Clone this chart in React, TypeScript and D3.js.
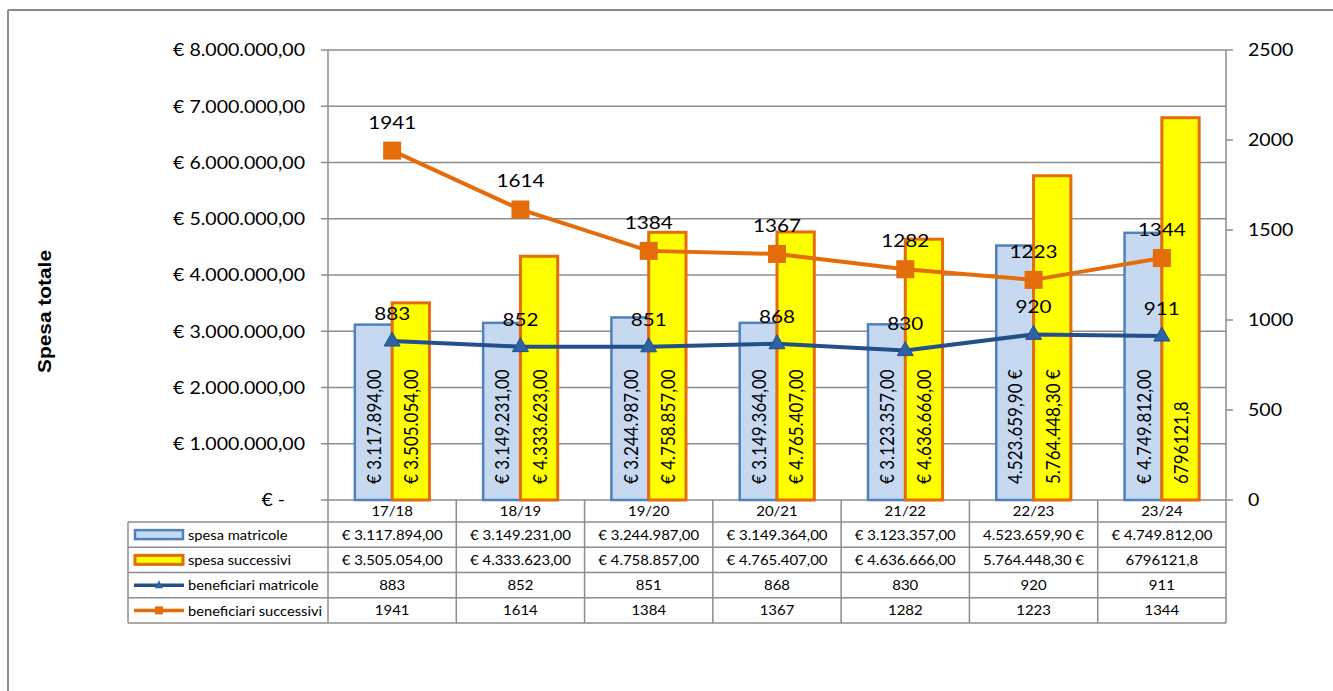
import React from "react";
import * as d3 from "d3";

const categories = ["17/18", "18/19", "19/20", "20/21", "21/22", "22/23", "23/24"];
const seriesNames = ["spesa matricole", "spesa successivi", "beneficiari matricole", "beneficiari successivi"];
const spesaMatricole = [3117894, 3149231, 3244987, 3149364, 3123357, 4523659.9, 4749812];
const spesaSuccessivi = [3505054, 4333623, 4758857, 4765407, 4636666, 5764448.3, 6796121.8];
const beneficiariMatricole = [883, 852, 851, 868, 830, 920, 911];
const beneficiariSuccessivi = [1941, 1614, 1384, 1367, 1282, 1223, 1344];
const matricoleLabels = ["€ 3.117.894,00", "€ 3.149.231,00", "€ 3.244.987,00", "€ 3.149.364,00", "€ 3.123.357,00", "4.523.659,90 €", "€ 4.749.812,00"];
const successiviLabels = ["€ 3.505.054,00", "€ 4.333.623,00", "€ 4.758.857,00", "€ 4.765.407,00", "€ 4.636.666,00", "5.764.448,30 €", "6796121,8"];
const leftTicks = [0, 1000000, 2000000, 3000000, 4000000, 5000000, 6000000, 7000000, 8000000];
const rightTicks = [0, 500, 1000, 1500, 2000, 2500];
const yTitle = "Spesa totale";

const FONT = "Lato, 'Open Sans', sans-serif";
const GRID = "#8c8c8c";
const BLUE_FILL = "#C6D9F1";
const BLUE_STROKE = "#4F81BD";
const YELLOW = "#FFFF00";
const ORANGE = "#E46C0A";
const DARKBLUE = "#24508A";

const fmtEuro = (v: number) => {
  if (v === 0) return "€ -";
  const s = d3.format(",.2f")(v).replace(/,/g, "X").replace(/\./g, ",").replace(/X/g, ".");
  return "€ " + s;
};

export default function App() {
  const L = 328, R = 1226, T = 50, B = 500;
  const y = d3.scaleLinear().domain([0, 8000000]).range([B, T]);
  const y2 = d3.scaleLinear().domain([0, 2500]).range([B, T]);
  const x0 = d3.scaleBand<string>().domain(categories).range([L, R]);
  const bw = x0.bandwidth();
  const x1 = d3.scaleBand<string>().domain(["m", "s"]).range([0, bw]).paddingOuter(0.72).paddingInner(0);
  const cx = (c: string) => (x0(c) as number) + bw / 2;
  const rows = d3.scaleBand<string>().domain(seriesNames).range([522, 623]);
  const lineGen = d3.line<number>().x((_, i) => cx(categories[i])).y((v) => y2(v));
  const sx = 1.15;

  const hText = (x: number, yy: number, txt: string, size: number, anchor: string, extra: any = {}) => (
    <text
      transform={`translate(${x},${yy}) scale(${sx},1)`}
      textAnchor={anchor}
      dominantBaseline="central"
      fontSize={size}
      fontFamily={FONT}
      fill="#000"
      style={{ whiteSpace: "pre" }}
      {...extra}
    >
      {txt}
    </text>
  );

  const rowKeys = [
    { name: seriesNames[0], vals: matricoleLabels },
    { name: seriesNames[1], vals: successiviLabels },
    { name: seriesNames[2], vals: beneficiariMatricole.map(String) },
    { name: seriesNames[3], vals: beneficiariSuccessivi.map(String) },
  ];

  return (
    <svg width={1333} height={691} style={{ position: "absolute", left: 0, top: 0, background: "#fff" }}>
      {/* frame */}
      <line x1={8} x2={1333} y1={10} y2={10} stroke={GRID} strokeWidth={2} />
      <line x1={8} x2={8} y1={10} y2={691} stroke={GRID} strokeWidth={2} />

      {/* gridlines + left ticks */}
      {leftTicks.map((t) => (
        <g key={"g" + t}>
          <line x1={L - 7} x2={R} y1={y(t)} y2={y(t)} stroke={GRID} strokeWidth={1.5} />
          {hText(305, y(t), t === 0 ? "€ -    " : fmtEuro(t), 17, "end")}
        </g>
      ))}
      {rightTicks.map((t) => (
        <g key={"r" + t}>
          <line x1={R} x2={R + 7} y1={y2(t)} y2={y2(t)} stroke={GRID} strokeWidth={1.5} />
          {hText(1248, y2(t), String(t), 17, "start")}
        </g>
      ))}
      <line x1={L} x2={L} y1={T} y2={623} stroke={GRID} strokeWidth={1.5} />
      <line x1={R} x2={R} y1={T} y2={B} stroke={GRID} strokeWidth={1.5} />

      {/* y title */}
      <text
        transform={`translate(50.5,${311.5}) rotate(-90)`}
        textAnchor="middle"
        fontSize={19}
        fontWeight="bold"
        fontFamily="'Liberation Sans', Arial, sans-serif"
        textLength={123}
        lengthAdjust="spacingAndGlyphs"
      >
        {yTitle}
      </text>

      {/* bars */}
      {categories.map((c, i) => {
        const xm = (x0(c) as number) + (x1("m") as number);
        const xs = (x0(c) as number) + (x1("s") as number);
        const w = x1.bandwidth();
        return (
          <g key={"b" + c}>
            <rect x={xm} y={y(spesaMatricole[i])} width={w} height={B - y(spesaMatricole[i])} fill={BLUE_FILL} stroke={BLUE_STROKE} strokeWidth={2.5} />
            <rect x={xs} y={y(spesaSuccessivi[i])} width={w} height={B - y(spesaSuccessivi[i])} fill={YELLOW} stroke={ORANGE} strokeWidth={3} />
            <text transform={`translate(${xm + w / 2},${484}) rotate(-90) scale(1,1.15)`} dominantBaseline="central" fontSize={17} fontFamily={FONT}>
              {matricoleLabels[i]}
            </text>
            <text transform={`translate(${xs + w / 2},${484}) rotate(-90) scale(1,1.15)`} dominantBaseline="central" fontSize={17} fontFamily={FONT}>
              {successiviLabels[i]}
            </text>
          </g>
        );
      })}

      {/* lines */}
      <path d={lineGen(beneficiariMatricole) as string} fill="none" stroke={DARKBLUE} strokeWidth={4} />
      <path d={lineGen(beneficiariSuccessivi) as string} fill="none" stroke={ORANGE} strokeWidth={4} />
      {categories.map((c, i) => {
        const px = cx(c);
        const pm = y2(beneficiariMatricole[i]);
        const ps = y2(beneficiariSuccessivi[i]);
        return (
          <g key={"m" + c}>
            <path d={`M${px},${pm - 9}L${px + 8},${pm + 5}L${px - 8},${pm + 5}Z`} fill="#2E62A3" stroke={DARKBLUE} strokeWidth={1} />
            <rect x={px - 9} y={ps - 9} width={18} height={18} fill={ORANGE} />
            {hText(px, pm - 28, String(beneficiariMatricole[i]), 18, "middle")}
            {hText(px, ps - 29, String(beneficiariSuccessivi[i]), 18, "middle")}
          </g>
        );
      })}

      {/* data table */}
      <line x1={128} x2={R} y1={522} y2={522} stroke={GRID} strokeWidth={1.5} />
      {seriesNames.map((s) => (
        <line key={"hl" + s} x1={128} x2={R} y1={(rows(s) as number) + rows.bandwidth()} y2={(rows(s) as number) + rows.bandwidth()} stroke={GRID} strokeWidth={1.5} />
      ))}
      <line x1={128} x2={128} y1={522} y2={623} stroke={GRID} strokeWidth={1.5} />
      {categories.map((c) => (
        <line key={"vl" + c} x1={(x0(c) as number) + bw} x2={(x0(c) as number) + bw} y1={B} y2={623} stroke={GRID} strokeWidth={1.5} />
      ))}
      {categories.map((c) => (
        <g key={"ct" + c}>{hText(cx(c), 511, c, 13, "middle")}</g>
      ))}
      {rowKeys.map((rk, ri) => {
        const ry = (rows(rk.name) as number) + rows.bandwidth() / 2;
        let key: any;
        if (ri === 0) key = <rect x={135} y={ry - 4.5} width={48} height={9} fill={BLUE_FILL} stroke={BLUE_STROKE} strokeWidth={2.5} />;
        else if (ri === 1) key = <rect x={135} y={ry - 4.5} width={48} height={9} fill={YELLOW} stroke={ORANGE} strokeWidth={3} />;
        else if (ri === 2)
          key = (
            <g>
              <line x1={134} x2={184} y1={ry} y2={ry} stroke={DARKBLUE} strokeWidth={3.5} />
              <path d={`M159,${ry - 5}L163,${ry + 3}L155,${ry + 3}Z`} fill="#2E62A3" />
            </g>
          );
        else
          key = (
            <g>
              <line x1={134} x2={184} y1={ry} y2={ry} stroke={ORANGE} strokeWidth={3.5} />
              <rect x={155} y={ry - 4} width={8} height={8} fill={ORANGE} />
            </g>
          );
        return (
          <g key={"row" + ri}>
            {key}
            <text transform={`translate(188,${ry}) scale(1.13,1)`} dominantBaseline="central" fontSize={13} fontFamily={FONT}>
              {rk.name}
            </text>
            {categories.map((c, i) => (
              <g key={"cell" + ri + c}>{hText(cx(c), ry, rk.vals[i], 13, "middle")}</g>
            ))}
          </g>
        );
      })}
    </svg>
  );
}
